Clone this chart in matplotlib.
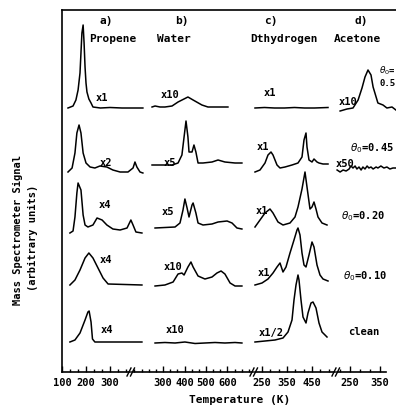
import matplotlib
matplotlib.use("Agg")
import matplotlib.pyplot as plt
from matplotlib.ticker import MultipleLocator, AutoMinorLocator

# temperatures (K) and signal above each trace's baseline (arb. units), top row first
propene_T = [
    [125, 146, 158, 167, 175, 179, 183, 188, 192, 196, 200, 204, 212, 221, 229, 260, 300, 350, 400, 437],
    [125, 142, 154, 162, 171, 179, 188, 200, 217, 237, 258, 287, 312, 342, 375, 396, 404, 412, 425, 437],
    [133, 146, 154, 162, 167, 179, 188, 196, 208, 229, 246, 267, 287, 312, 342, 371, 387, 396, 408, 433],
    [133, 154, 175, 196, 212, 229, 250, 271, 292, 433],
    [133, 154, 175, 196, 208, 213, 221, 227, 237, 433],
]
propene_sig = [
    [0, 2, 8, 18, 35, 55, 75, 83, 65, 41, 25, 16, 9, 5, 1, 0, 0.5, 0, 0, 0],
    [0, 4, 19, 39, 47, 39, 19, 9, 5, 4, 6, 5, 2, 0, 0, 4, 10, 5, 0, -1],
    [0, 2, 16, 40, 50, 43, 18, 8, 6, 8, 15, 13, 8, 4, 3, 5, 13, 8, 1, 0],
    [0, 5, 15, 27, 32, 27, 17, 7, 1, 0],
    [0, 2, 9, 22, 30, 31, 20, 3, 0, 0],
]

water_T = [
    [249, 263, 286, 309, 342, 370, 416, 440, 481, 509, 602],
    [249, 342, 370, 388, 398, 407, 416, 421, 435, 444, 453, 463, 486, 528, 556, 588, 635, 667],
    [263, 356, 379, 393, 402, 412, 421, 435, 440, 453, 463, 486, 528, 556, 598, 621, 644, 667],
    [263, 309, 347, 370, 388, 398, 416, 430, 440, 463, 495, 528, 551, 570, 588, 612, 635, 667],
    [263, 309, 356, 402, 449, 495, 542, 588, 635, 667],
]
water_sig = [
    [0, 1, 0, 0, 1, 5, 10, 7, 2, 0, 0],
    [0, 0, 2, 10, 28, 44, 28, 13, 13, 20, 13, 2, 2, 3, 5, 3, 2, 2],
    [0, 1, 5, 18, 29, 20, 11, 23, 25, 15, 5, 3, 4, 6, 7, 5, 0, -1],
    [0, 1, 4, 12, 13, 11, 19, 24, 19, 10, 7, 9, 13, 15, 12, 3, 0, 0],
    [0, 0.5, 0, 1, -0.5, 0, 0.5, 0, 0.5, 0],
]

dihydrogen_T = [
    [222, 260, 300, 340, 380, 420, 460, 514],
    [222, 242, 262, 274, 286, 294, 310, 322, 342, 370, 394, 410, 418, 426, 430, 438, 450, 458, 470, 478, 494, 514],
    [222, 242, 262, 282, 294, 314, 334, 362, 382, 394, 410, 422, 430, 442, 450, 458, 466, 474, 490, 510],
    [222, 250, 274, 294, 310, 322, 334, 346, 362, 378, 390, 394, 402, 410, 418, 426, 438, 450, 458, 470, 482, 494, 514],
    [222, 262, 302, 334, 354, 370, 378, 386, 394, 398, 406, 414, 426, 434, 446, 454, 466, 478, 490, 510],
]
dihydrogen_sig = [
    [0, 0.5, 0, 0, 0.5, 0, 0, 0.5],
    [0, 2, 9, 17, 20, 17, 7, 4, 5, 7, 9, 15, 32, 39, 25, 12, 10, 13, 10, 9, 8, 8],
    [0, 7, 14, 18, 14, 5, 2, 4, 10, 20, 38, 55, 40, 18, 20, 25, 18, 10, 4, 2],
    [0, 2, 6, 12, 18, 22, 13, 18, 32, 45, 55, 57, 50, 32, 20, 18, 30, 43, 38, 20, 10, 6, 4],
    [0, 1, 2, 4, 10, 22, 42, 57, 67, 62, 42, 25, 19, 29, 39, 40, 34, 19, 10, 5],
]

acetone_T = [
    [217, 240, 260, 277, 290, 300, 310, 320, 327, 337, 343, 360, 373, 390, 403],
    [207, 217, 227, 237, 247, 253, 260, 267, 273, 280, 287, 293, 300, 307, 313, 320, 327, 337, 343, 353, 363, 373, 383, 393, 403],
]
acetone_sig = [
    [0, 2, 3, 11, 23, 34, 41, 36, 24, 14, 8, 6, 3, 4, 1],
    [0, -2, 0, -1, 1, 4, 2, 4, 1, 3, 0, 3, 1, 4, 2, 3, 1, 3, 2, 4, 2, 3, 1, 2, 2],
]

panel_letters = ["a)", "b)", "c)", "d)"]
panel_names = ["Propene", "Water", "Dthydrogen", "Acetone"]
scale_labels = [
    ["x1", "x2", "x4", "x4", "x4"],
    ["x10", "x5", "x5", "x10", "x10"],
    ["x1", "x1", "x1", "x1", "x1/2"],
    ["x10", "x50"],
]
coverage_labels = [r"$\theta_0$=0.45", r"$\theta_0$=0.20", r"$\theta_0$=0.10", "clean"]

font = dict(family="DejaVu Sans Mono", weight="bold")

W, H = 396, 408
fig = plt.figure(figsize=(W / 100, H / 100), dpi=100)

# frame axes in pixel units (y down) for the box and the labels
ax0 = fig.add_axes([62 / W, 36 / H, (W - 62) / W, 362 / H])
ax0.set_xlim(62, W)
ax0.set_ylim(372, 10)
ax0.set_xticks([])
ax0.set_yticks([])
ax0.spines["right"].set_visible(False)
ax0.spines["bottom"].set_visible(False)
for s in ("left", "top"):
    ax0.spines[s].set_linewidth(1.2)
ax0.patch.set_alpha(0)

# panels: pixel extent, pixel of reference tick, temperature of it, px per 100 K
panels = [
    (62, 130, 62, 100, 24.0),
    (132, 253, 163, 300, 21.5),
    (255, 335, 262, 250, 25.0),
    (337, 386, 350, 250, 30.0),
]
baselines = [
    [264, 200, 139, 87, 30],
    [265, 207, 144, 86, 29],
    [264, 200, 145, 87, 30],
    [261, 202],
]
majors = [[100, 200, 300], [300, 400, 500, 600], [250, 350, 450], [250, 350]]
data = [
    (propene_T, propene_sig),
    (water_T, water_sig),
    (dihydrogen_T, dihydrogen_sig),
    (acetone_T, acetone_sig),
]

for i, (x1, x2, xr, tr, ppk) in enumerate(panels):
    ax = fig.add_axes([x1 / W, 36 / H, (x2 - x1) / W, 362 / H])
    ax.patch.set_alpha(0)
    ax.set_xlim(tr + (x1 - xr) / ppk * 100, tr + (x2 - xr) / ppk * 100)
    ax.set_ylim(0, 362)
    for s in ("left", "right", "top"):
        ax.spines[s].set_visible(False)
    ax.spines["bottom"].set_linewidth(1.2)
    ax.set_yticks([])
    ax.set_xticks(majors[i])
    ax.xaxis.set_minor_locator(AutoMinorLocator(3))
    ax.tick_params(axis="x", which="major", direction="in", length=4, width=1, pad=4, labelsize=7.5)
    ax.tick_params(axis="x", which="minor", direction="in", length=2.5, width=1)
    for lab in ax.get_xticklabels():
        lab.set_fontfamily("DejaVu Sans Mono")
        lab.set_fontweight("bold")
    temps, sigs = data[i]
    for T, sig, base in zip(temps, sigs, baselines[i]):
        ax.plot(T, [base + v for v in sig], color="black", lw=1.1, clip_on=False)

# break marks on the temperature axis
for xb in (131, 254, 336):
    for dx in (-2, 1.5):
        ax0.plot([xb + dx - 2, xb + dx + 2], [376, 368], color="black", lw=1, clip_on=False)

# headings
heads = [(106, 113), (182, 174), (271, 284), (361, 357)]
for (xl, xn), let, name in zip(heads, panel_letters, panel_names):
    ax0.text(xl, 21, let, ha="center", va="center", fontsize=8, **font)
    ax0.text(xn, 39, name, ha="center", va="center", fontsize=8, **font)

scale_pos = [
    [(102, 98), (106, 163), (105, 205), (106, 260), (107, 330)],
    [(170, 95), (170, 163), (168, 212), (173, 267), (175, 330)],
    [(270, 93), (263, 147), (262, 211), (264, 273), (271, 333)],
    [(348, 102), (345, 164)],
]
for labs, poss in zip(scale_labels, scale_pos):
    for lab, (x, y) in zip(labs, poss):
        ax0.text(x, y, lab, ha="center", va="center", fontsize=7.5, **font)

ax0.text(379, 71, r"$\theta_0$=", ha="left", va="center", fontsize=6.5, **font)
ax0.text(379, 84, "0.5", ha="left", va="center", fontsize=6.5, **font)
for lab, (x, y) in zip(coverage_labels, [(372, 148), (363, 216), (365, 276), (364, 332)]):
    ax0.text(x, y, lab, ha="center", va="center", fontsize=7.5, **font)

ax0.text(18, 230, "Mass Spectrometer Signal", rotation=90, ha="center", va="center", fontsize=7.5, **font)
ax0.text(33, 238, "(arbitrary units)", rotation=90, ha="center", va="center", fontsize=7.5, **font)
ax0.text(240, 400, "Temperature (K)", ha="center", va="center", fontsize=8, **font)

fig.savefig("out.png", dpi=100)
